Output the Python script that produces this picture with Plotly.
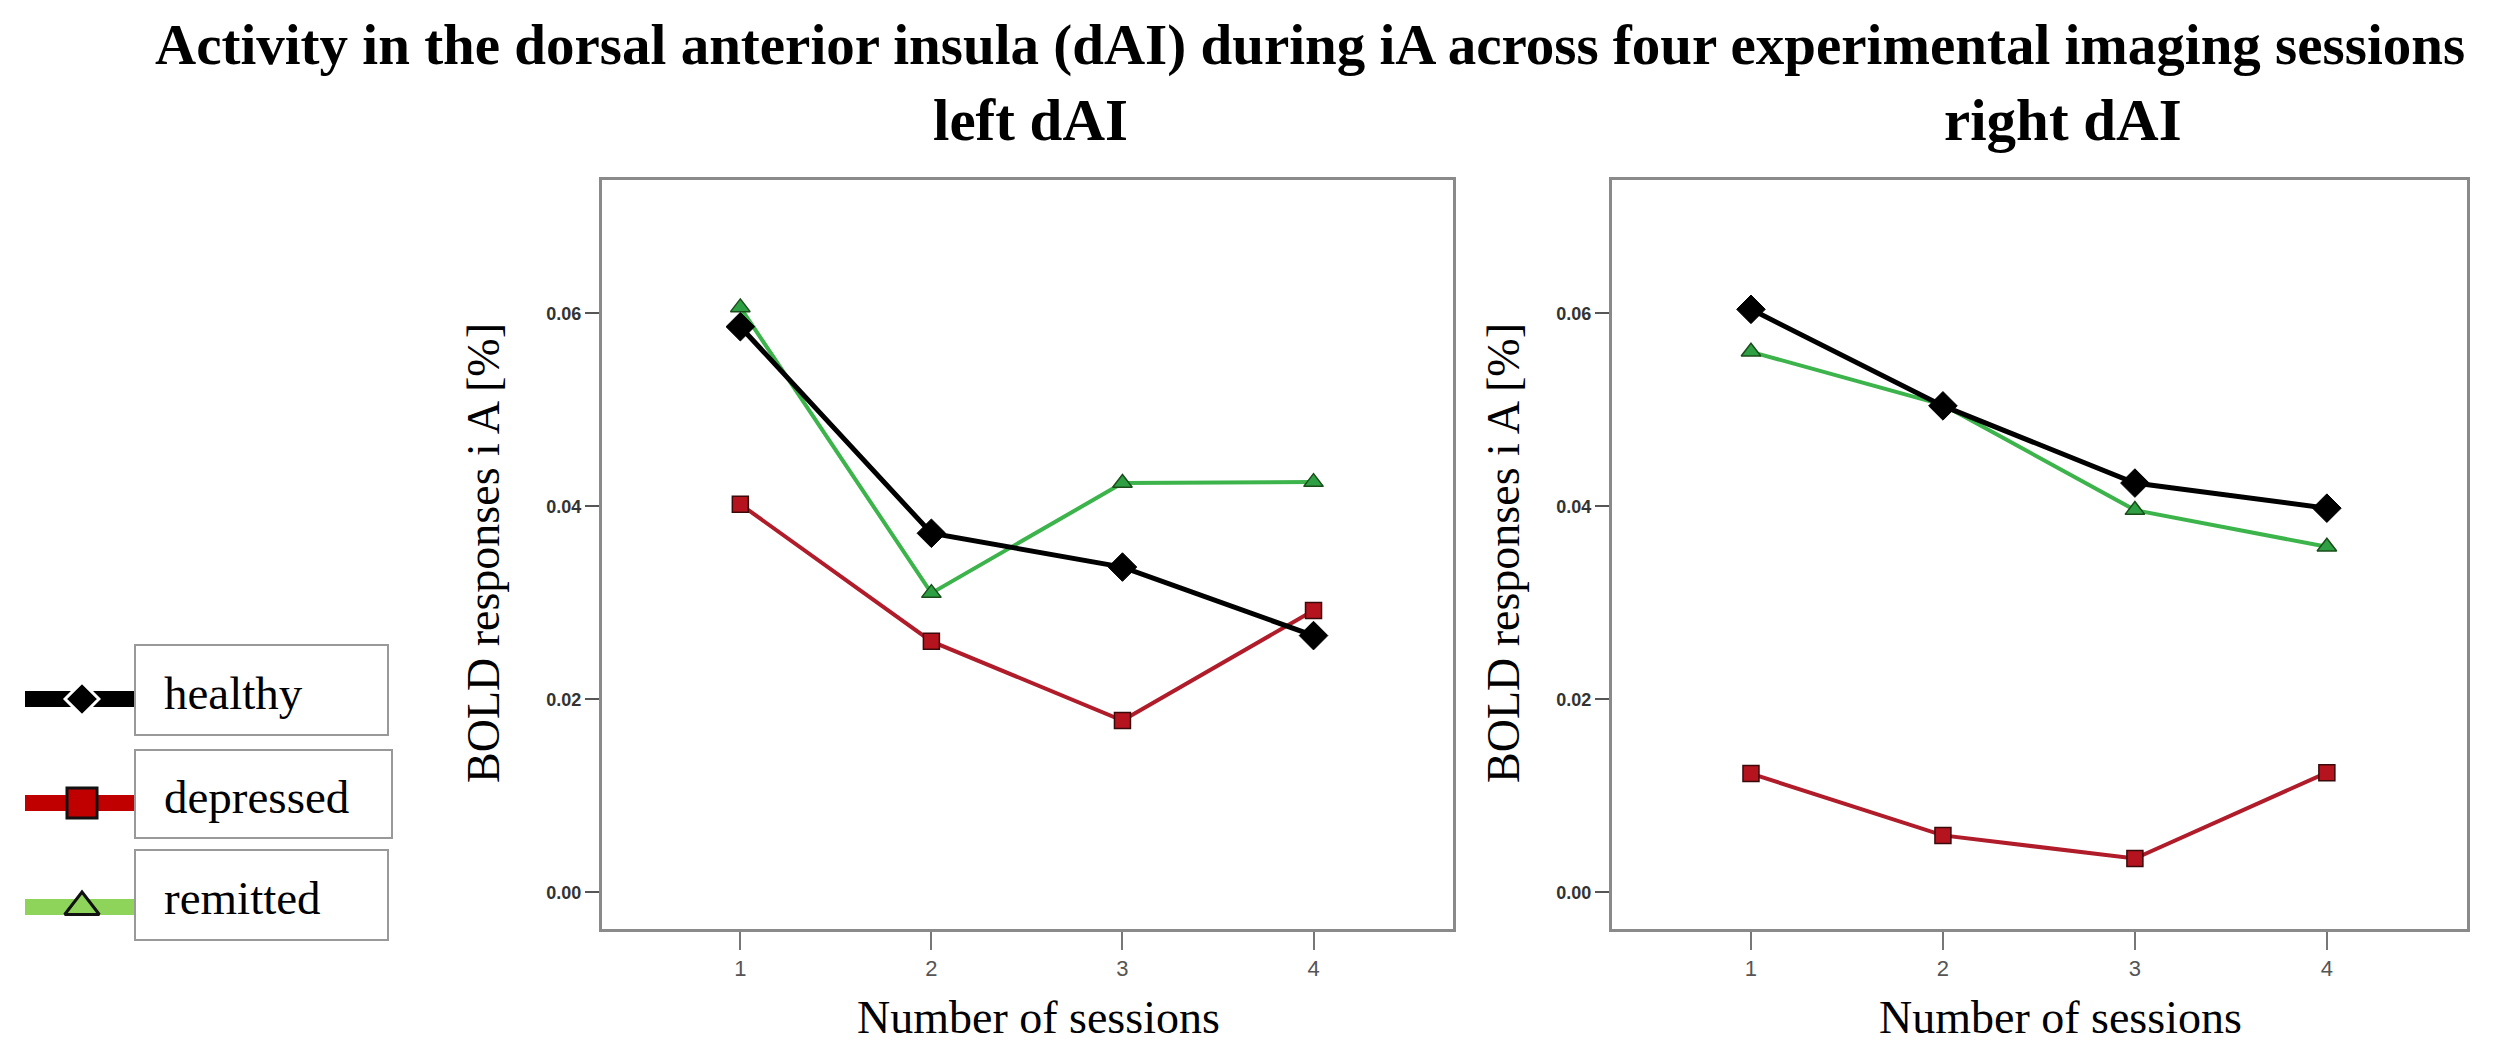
import plotly.graph_objects as go

W, H = 2500, 1055

# data
sessions = [1, 2, 3, 4]
groups = ["healthy", "depressed", "remitted"]

left_healthy = [0.0586, 0.0372, 0.0337, 0.0266]
left_depressed = [0.0402, 0.0260, 0.0178, 0.0292]
left_remitted = [0.0606, 0.0310, 0.0424, 0.0425]

right_healthy = [0.0604, 0.0504, 0.0424, 0.0398]
right_depressed = [0.0123, 0.0059, 0.0035, 0.0124]
right_remitted = [0.0560, 0.0505, 0.0396, 0.0358]

y_ticks = [0.00, 0.02, 0.04, 0.06]

serif = "Liberation Serif"
sans = "Liberation Sans"

# px -> paper
def px(x):
    return x / W

def py(y):
    return 1 - y / H

style = {
    "healthy": dict(line=dict(color="#000000", width=5),
                    marker=dict(symbol="diamond", size=22, color="#000000",
                                line=dict(color="#000000", width=1))),
    "depressed": dict(line=dict(color="#b01c2a", width=4),
                      marker=dict(symbol="square", size=16, color="#b5141f",
                                  line=dict(color="#3a0a0a", width=1.5))),
    "remitted": dict(line=dict(color="#3cb44b", width=4),
                     marker=dict(symbol="triangle-up", size=17, color="#2ea043",
                                 line=dict(color="#1a4d1a", width=1.5))),
}

fig = go.Figure()

panels = [
    ("x", "y", {"healthy": left_healthy, "depressed": left_depressed, "remitted": left_remitted}),
    ("x2", "y2", {"healthy": right_healthy, "depressed": right_depressed, "remitted": right_remitted}),
]
for xa, ya, vals in panels:
    for g in ["depressed", "remitted", "healthy"]:
        fig.add_trace(go.Scatter(x=sessions, y=vals[g], mode="lines+markers", name=g,
                                 xaxis=xa, yaxis=ya, showlegend=False,
                                 line=style[g]["line"], marker=style[g]["marker"]))

# legend samples on a hidden pixel axis
leg_line = {"healthy": "#000000", "depressed": "#c00000", "remitted": "#8fd45a"}
leg_marker = {
    "healthy": dict(symbol="diamond", size=26, color="#000000", line=dict(color="#ffffff", width=3)),
    "depressed": dict(symbol="square", size=30, color="#c00000", line=dict(color="#111111", width=3)),
    "remitted": dict(symbol="triangle-up", size=30, color="#8fd45a", line=dict(color="#111111", width=3)),
}
leg_y = [699, 803, 907]
for g, yy in zip(groups, leg_y):
    fig.add_trace(go.Scatter(x=[25, 135], y=[yy, yy], mode="lines", xaxis="x3", yaxis="y3",
                             showlegend=False, hoverinfo="skip",
                             line=dict(color=leg_line[g], width=16)))
    fig.add_trace(go.Scatter(x=[82], y=[yy], mode="markers", xaxis="x3", yaxis="y3",
                             showlegend=False, hoverinfo="skip", marker=leg_marker[g]))

shapes = []
annotations = []
boxes = [(135, 645, 388, 735), (135, 750, 392, 838), (135, 850, 388, 940)]
text_y = [693, 797, 898]
for g, (x0, y0, x1, y1), ty in zip(groups, boxes, text_y):
    shapes.append(dict(type="rect", xref="paper", yref="paper",
                       x0=px(x0), x1=px(x1), y0=py(y1), y1=py(y0),
                       line=dict(color="#999999", width=2), fillcolor="rgba(0,0,0,0)"))
    annotations.append(dict(text=g, xref="paper", yref="paper", x=px(162), y=py(ty),
                            xanchor="left", yanchor="middle", showarrow=False,
                            font=dict(family=serif, size=47, color="#000000")))

def label(text, x, y, size, angle=0):
    return dict(text=text, xref="paper", yref="paper", x=px(x), y=py(y),
                xanchor="center", yanchor="middle", textangle=angle, showarrow=False,
                font=dict(family=serif, size=size, color="#000000"))

annotations += [
    label("<b>Activity in the dorsal anterior insula (dAI) during iA across four experimental imaging sessions</b>",
          1310, 45, 57),
    label("<b>left dAI</b>", 1030, 120, 59),
    label("<b>right dAI</b>", 2063, 120, 59),
]
for xc in [483, 1503]:
    annotations.append(label("BOLD responses i A [%]", xc, 553, 46, angle=-90))
for xc in [1038, 2060]:
    annotations.append(label("Number of sessions", xc, 1017, 46))

xax = dict(range=[0.276, 4.73], tickvals=sessions, ticks="outside", ticklen=18, tickwidth=2,
           tickcolor="#777777", showline=True, mirror=True, linecolor="#8a8a8a", linewidth=3,
           showgrid=False, zeroline=False, fixedrange=True,
           tickfont=dict(family=sans, size=22, color="#555555"))
yax = dict(range=[-0.0038, 0.0738], tickvals=y_ticks, tickformat=".2f", ticks="outside",
           ticklen=14, tickwidth=2, tickcolor="#555555", showline=True, mirror=True,
           linecolor="#8a8a8a", linewidth=3, showgrid=False, zeroline=False, fixedrange=True,
           tickfont=dict(family=sans, size=18, color="#333333", weight="bold"))

fig.update_layout(
    width=W, height=H,
    margin=dict(l=0, r=0, t=0, b=0),
    paper_bgcolor="white", plot_bgcolor="white",
    xaxis=dict(xax, domain=[px(602), px(1453)], anchor="y"),
    yaxis=dict(yax, domain=[py(929), py(180)], anchor="x"),
    xaxis2=dict(xax, domain=[px(1612), px(2467)], anchor="y2"),
    yaxis2=dict(yax, domain=[py(929), py(180)], anchor="x2"),
    xaxis3=dict(domain=[0, px(500)], range=[0, 500], visible=False, anchor="y3", fixedrange=True),
    yaxis3=dict(domain=[0, 1], range=[H, 0], visible=False, anchor="x3", fixedrange=True),
    shapes=shapes,
    annotations=annotations,
    showlegend=False,
)

fig.write_html("out.html", config={"displayModeBar": False},
               post_script="document.body.style.margin='0';")
